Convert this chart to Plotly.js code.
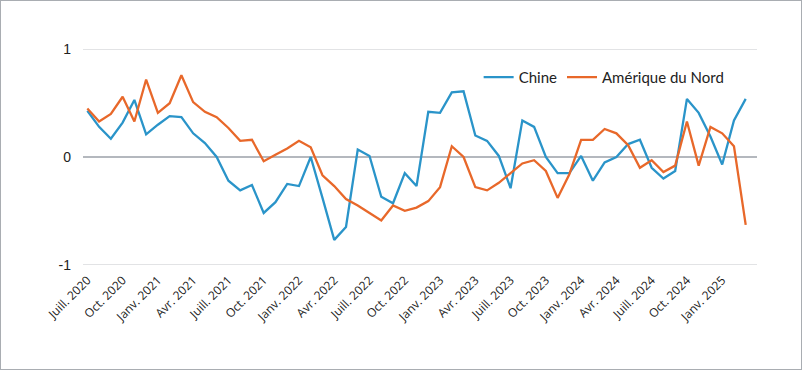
<!DOCTYPE html>
<html>
<head>
<meta charset="utf-8">
<script src="https://cdn.plot.ly/plotly-3.0.1.min.js"></script>
<style>
html,body{margin:0;padding:0;background:#fff;}
#wrap{position:relative;width:802px;height:370px;}
#chart{width:802px;height:370px;}
#frame{position:absolute;left:0;top:0;width:802px;height:370px;box-sizing:border-box;border:1.5px solid #a9adb2;pointer-events:none;}
</style>
</head>
<body>
<div id="wrap"><div id="chart"></div><div id="frame"></div></div>
<script>
const months = [
 "Juill. 2020","Août 2020","Sept. 2020","Oct. 2020","Nov. 2020","Déc. 2020",
 "Janv. 2021","Févr. 2021","Mars 2021","Avr. 2021","Mai 2021","Juin 2021",
 "Juill. 2021","Août 2021","Sept. 2021","Oct. 2021","Nov. 2021","Déc. 2021",
 "Janv. 2022","Févr. 2022","Mars 2022","Avr. 2022","Mai 2022","Juin 2022",
 "Juill. 2022","Août 2022","Sept. 2022","Oct. 2022","Nov. 2022","Déc. 2022",
 "Janv. 2023","Févr. 2023","Mars 2023","Avr. 2023","Mai 2023","Juin 2023",
 "Juill. 2023","Août 2023","Sept. 2023","Oct. 2023","Nov. 2023","Déc. 2023",
 "Janv. 2024","Févr. 2024","Mars 2024","Avr. 2024","Mai 2024","Juin 2024",
 "Juill. 2024","Août 2024","Sept. 2024","Oct. 2024","Nov. 2024","Déc. 2024",
 "Janv. 2025","Févr. 2025","Mars 2025"
];
const chine = [
 0.43,0.28,0.17,0.32,0.53,0.21,0.30,0.38,0.37,0.22,
 0.13,0.00,-0.22,-0.31,-0.26,-0.52,-0.42,-0.25,-0.27,0.00,
 -0.38,-0.77,-0.65,0.07,0.01,-0.37,-0.43,-0.15,-0.27,0.42,
 0.41,0.60,0.61,0.20,0.15,0.01,-0.29,0.34,0.28,0.00,
 -0.15,-0.15,0.01,-0.22,-0.05,0.00,0.12,0.16,-0.10,-0.20,
 -0.13,0.54,0.41,0.19,-0.07,0.34,0.54
];
const ameriqueNord = [
 0.45,0.33,0.40,0.56,0.33,0.72,0.41,0.50,0.76,0.51,
 0.42,0.37,0.27,0.15,0.16,-0.04,0.02,0.08,0.15,0.09,
 -0.17,-0.27,-0.39,-0.45,-0.52,-0.59,-0.45,-0.50,-0.47,-0.41,
 -0.28,0.10,0.00,-0.28,-0.31,-0.24,-0.15,-0.06,-0.03,-0.13,
 -0.38,-0.16,0.16,0.16,0.26,0.22,0.11,-0.10,-0.03,-0.14,
 -0.08,0.33,-0.08,0.28,0.22,0.10,-0.63
];
const tickLabels = months.filter((m, i) => i % 3 === 0 && i <= 54);
const yTicks = [-1, 0, 1];

const traces = [
 {x: months, y: chine, name: "Chine", type: "scatter", mode: "lines",
  line: {color: "#2a94c9", width: 2.3}},
 {x: months, y: ameriqueNord, name: "Amérique du Nord", type: "scatter", mode: "lines",
  line: {color: "#e8682a", width: 2.3}}
];

const layout = {
 width: 802, height: 370,
 margin: {l: 83, r: 45, t: 44, b: 100},
 paper_bgcolor: "#fff", plot_bgcolor: "#fff",
 showlegend: true,
 legend: {orientation: "h", x: 0.587, y: 0.925, xanchor: "left", yanchor: "top",
  font: {family: "Lato, 'Open Sans', sans-serif", size: 15, color: "#222"},
  itemwidth: 30, bgcolor: "rgba(0,0,0,0)", tracegroupgap: 0},
 xaxis: {type: "category", range: [-0.37, 56.96], tickmode: "array",
  tickvals: tickLabels, ticktext: tickLabels, tickangle: -45,
  showgrid: false, zeroline: false, showline: false, ticks: "",
  tickfont: {family: "'Open Sans', sans-serif", size: 12, color: "#222"}},
 yaxis: {range: [-1.05, 1.05], tickvals: yTicks, ticktext: yTicks.map(String),
  showgrid: true, gridcolor: "#e2e3e5", gridwidth: 1,
  zeroline: true, zerolinecolor: "#b4b8be", zerolinewidth: 2,
  showline: false, ticks: "", ticklabelstandoff: 11,
  tickfont: {family: "'Liberation Sans', Arial, sans-serif", size: 14, color: "#222"}}
};

Plotly.newPlot("chart", traces, layout, {displayModeBar: false, staticPlot: true});
</script>
</body>
</html>
